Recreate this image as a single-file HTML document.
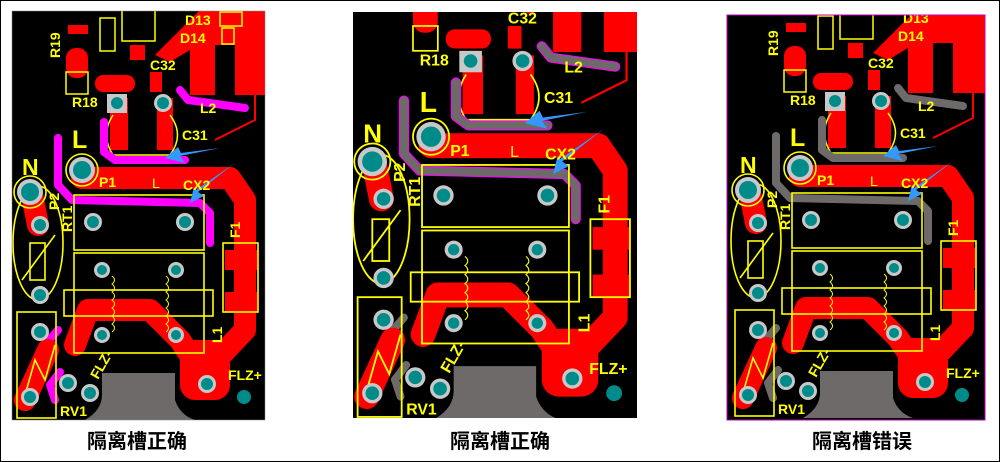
<!DOCTYPE html>
<html><head><meta charset="utf-8"><style>
html,body{margin:0;padding:0;background:#fff;}
svg{display:block;}
text{font-family:"Liberation Sans","Noto Sans CJK SC",sans-serif;}
.y{fill:#ffff00;font-size:14px;font-weight:bold;}
.cap{fill:#000;font-size:20px;font-weight:bold;font-family:"Liberation Sans","Noto Sans CJK SC",sans-serif;}
</style></head><body>
<svg width="1000" height="462" viewBox="0 0 1000 462" xmlns="http://www.w3.org/2000/svg">
<defs>
<clipPath id="c1"><rect x="12" y="11" width="253" height="409"/></clipPath>
<clipPath id="c2"><rect x="353" y="12" width="284" height="406"/></clipPath>
<clipPath id="c3"><rect x="727" y="15" width="258" height="405"/></clipPath>
</defs>
<rect x="0.5" y="0.5" width="999" height="461" fill="#fff" stroke="#000"/>

<!-- PANEL 1 -->
<g clip-path="url(#c1)">
<g>
<rect x="0" y="0" width="280" height="430" fill="#000"/>
<path d="M155,55 L200,10 L270,10 L270,95 L235,95 L235,45 L215,45 L215,95 L190,95 L190,50 L170,62 Z" fill="#ff0000"/>
<rect x="68" y="25" width="20" height="9" fill="#ff0000"/>
<rect x="66" y="48" width="22" height="30" rx="10" fill="#ff0000"/>
<rect x="95" y="75" width="40" height="17" rx="8" fill="#ff0000"/>
<rect x="150" y="72" width="12" height="20" fill="#ff0000"/>
<rect x="130" y="45" width="15" height="15" fill="#ff0000"/>
<rect x="110" y="98" width="18" height="52" fill="#ff0000"/>
<rect x="157" y="98" width="16" height="52" fill="#ff0000"/>
<path d="M255,95 L255,120 L215,140" stroke="#ff0000" stroke-width="2" fill="none"/>
<rect x="66" y="72" width="22" height="22" fill="none" stroke="#ffff00" stroke-width="1.5"/>
<rect x="100" y="18" width="15" height="33" fill="none" stroke="#ffff00" stroke-width="1.5"/>
<rect x="122" y="8" width="33" height="33" fill="none" stroke="#ffff00" stroke-width="1.5"/>
<rect x="220" y="12" width="22" height="14" fill="none" stroke="#ffff00" stroke-width="1.5"/>
<rect x="222" y="28" width="12" height="16" fill="none" stroke="#ffff00" stroke-width="1.5"/>
<path d="M113,115 Q100,135 113,155 L170,155 Q185,135 170,115" fill="none" stroke="#ffff00" stroke-width="1.5"/>
<g fill="none" stroke="#ff00ff" stroke-width="8" stroke-linecap="round" stroke-linejoin="round">
<path d="M58,138 L58,185 L72,200 L200,203 L210,213 L210,243"/>
<path d="M104,122 L104,152 L115,160 L185,160"/>
<path d="M180,90 L188,100 L245,108"/>
<path d="M58,330 L45,345"/><path d="M60,372 L50,385 L55,400"/>
</g>
<g fill="none" stroke="#ff0000" stroke-width="22" stroke-linejoin="round" stroke-linecap="round">
<path d="M82,178 L230,178 L245,200 L245,330 L205,372"/>
<path d="M32,195 L38,225"/>
<path d="M75,345 L88,310 L150,310 L180,340 L200,370"/>
<path d="M25,400 L48,350"/>
</g>
<rect x="180" y="340" width="50" height="60" rx="15" fill="#ff0000"/>
<rect x="225" y="250" width="33" height="20" fill="#ff0000"/>
<rect x="225" y="292" width="33" height="20" fill="#ff0000"/>
<path d="M102,373 L175,373 L175,400 Q180,415 195,420 L85,420 Q102,410 102,395 Z" fill="#6e6a6a"/>
<g fill="none" stroke="#ffff00" stroke-width="1.6">
<rect x="74" y="195" width="130" height="55"/>
<rect x="74" y="253" width="130" height="100"/>
<rect x="64" y="290" width="149" height="26"/>
<rect x="223" y="243" width="35" height="69"/>
<rect x="17" y="312" width="39" height="106"/>
<ellipse cx="38" cy="243" rx="25" ry="57"/>
<rect x="30" y="243" width="15" height="37"/>
<path d="M22,280 L55,235"/>
<path d="M25,395 L35,360 L45,380 L55,345"/>
<circle cx="30" cy="192" r="16"/>
<circle cx="82" cy="170" r="16"/>
</g>
<g fill="none" stroke="#ffff00" stroke-width="1"><path d="M112,276 q5,4 0,8 q5,4 0,8 q5,4 0,8 q5,4 0,8 q5,4 0,8 q5,4 0,8 q5,4 0,8"/><path d="M166,276 q5,4 0,8 q5,4 0,8 q5,4 0,8 q5,4 0,8 q5,4 0,8 q5,4 0,8 q5,4 0,8"/></g>
<rect x="107" y="94" width="20" height="19" fill="#c8c8c8"/>
<g fill="#c8c8c8"><circle cx="163" cy="103" r="9"/><circle cx="30" cy="192" r="13"/><circle cx="82" cy="170" r="13"/>
<circle cx="93" cy="222" r="9"/><circle cx="185" cy="222" r="9"/><circle cx="102" cy="270" r="8"/><circle cx="176" cy="270" r="8"/>
<circle cx="102" cy="335" r="8"/><circle cx="176" cy="335" r="8"/><circle cx="40" cy="225" r="9"/><circle cx="40" cy="295" r="9"/>
<circle cx="40" cy="332" r="9"/><circle cx="30" cy="397" r="9"/><circle cx="68" cy="383" r="9"/><circle cx="90" cy="393" r="9"/><circle cx="207" cy="384" r="9"/></g>
<g fill="#008b8b"><circle cx="117" cy="103" r="6"/><circle cx="163" cy="103" r="6"/><circle cx="30" cy="192" r="9"/><circle cx="82" cy="170" r="9"/>
<circle cx="93" cy="222" r="6"/><circle cx="185" cy="222" r="6"/><circle cx="102" cy="270" r="5"/><circle cx="176" cy="270" r="5"/>
<circle cx="102" cy="335" r="5"/><circle cx="176" cy="335" r="5"/><circle cx="40" cy="225" r="6"/><circle cx="40" cy="295" r="6"/>
<circle cx="40" cy="332" r="6"/><circle cx="30" cy="397" r="6"/><circle cx="68" cy="383" r="6"/><circle cx="90" cy="393" r="6"/><circle cx="207" cy="384" r="6"/><circle cx="244" cy="397" r="7"/></g>
<path d="M220,148 L180,156 L185,163 L165,158 L178,147 L181,153 Z" fill="#3399ff"/>
<path d="M235,163 L198,192 L204,196 L190,203 L194,187 L196,190 Z" fill="#3399ff"/>
<text x="22" y="175" class="y" style="font-size:23px">N</text>
<text x="72" y="148" class="y" style="font-size:25px">L</text>
<text x="99" y="187" class="y">P1</text>
<text x="152" y="188" class="y" style="font-weight:normal">L</text>
<text x="183" y="190" class="y">CX2</text>
<text x="182" y="140" class="y">C31</text>
<text x="150" y="70" class="y">C32</text>
<text x="72" y="107" class="y">R18</text>
<text x="200" y="113" class="y">L2</text>
<text x="185" y="25" class="y">D13</text>
<text x="180" y="43" class="y">D14</text>
<text x="228" y="380" class="y">FLZ+</text>
<text x="60" y="416" class="y">RV1</text>
<text class="y" transform="translate(60,58) rotate(-90)">R19</text>
<text class="y" transform="translate(59,210) rotate(-90)">P2</text>
<text class="y" transform="translate(72,232) rotate(-90)">RT1</text>
<text class="y" transform="translate(240,238) rotate(-90)">F1</text>
<text class="y" transform="translate(222,343) rotate(-90)">L1</text>
<text class="y" transform="translate(98,380) rotate(-60)">FLZ-</text>
</g>
</g>
<rect x="12" y="11" width="253" height="409" fill="none" stroke="#888" stroke-width="0.5"/>

<!-- PANEL 2 -->
<g clip-path="url(#c2)">
<g transform="translate(338.4,-55.4) scale(1.13)">
<rect x="0" y="0" width="280" height="430" fill="#000"/>
<path d="M155,55 L200,10 L270,10 L270,95 L235,95 L235,45 L215,45 L215,95 L190,95 L190,50 L170,62 Z" fill="#ff0000"/>
<rect x="66" y="48" width="22" height="30" rx="10" fill="#ff0000"/>
<rect x="95" y="75" width="40" height="17" rx="8" fill="#ff0000"/>
<rect x="150" y="72" width="12" height="20" fill="#ff0000"/>
<rect x="110" y="98" width="18" height="52" fill="#ff0000"/>
<rect x="157" y="98" width="16" height="52" fill="#ff0000"/>
<path d="M255,95 L255,120 L215,140" stroke="#ff0000" stroke-width="2" fill="none"/>
<rect x="66" y="72" width="22" height="22" fill="none" stroke="#ffff00" stroke-width="1.5"/>
<path d="M113,115 Q100,135 113,155 L170,155 Q185,135 170,115" fill="none" stroke="#ffff00" stroke-width="1.5"/>
<g fill="none" stroke-linecap="round" stroke-linejoin="round">
<g stroke="#ff00ff" stroke-width="9"><path d="M58,138 L58,185 L72,200 L200,203 L210,213 L210,243"/><path d="M104,122 L104,152 L115,160 L185,160"/><path d="M180,90 L188,100 L245,108"/></g>
<g stroke="#6e6a6a" stroke-width="7"><path d="M58,138 L58,185 L72,200 L200,203 L210,213 L210,243"/><path d="M104,122 L104,152 L115,160 L185,160"/><path d="M180,90 L188,100 L245,108"/><path d="M58,330 L45,345"/><path d="M60,372 L50,385 L55,400"/></g>
</g>
<g fill="none" stroke="#ff0000" stroke-width="22" stroke-linejoin="round" stroke-linecap="round">
<path d="M82,178 L230,178 L245,200 L245,330 L205,372"/><path d="M32,195 L38,225"/>
<path d="M75,345 L88,310 L150,310 L180,340 L200,370"/><path d="M25,400 L48,350"/>
</g>
<rect x="180" y="340" width="50" height="60" rx="15" fill="#ff0000"/>
<rect x="225" y="250" width="33" height="20" fill="#ff0000"/>
<rect x="225" y="292" width="33" height="20" fill="#ff0000"/>
<path d="M102,373 L175,373 L175,400 Q180,415 195,420 L85,420 Q102,410 102,395 Z" fill="#6e6a6a"/>
<g fill="none" stroke="#ffff00" stroke-width="1.6">
<rect x="74" y="195" width="130" height="55"/><rect x="74" y="253" width="130" height="100"/><rect x="64" y="290" width="149" height="26"/>
<rect x="223" y="243" width="35" height="69"/><rect x="17" y="312" width="39" height="106"/><ellipse cx="38" cy="243" rx="25" ry="57"/>
<rect x="30" y="243" width="15" height="37"/><path d="M22,280 L55,235"/><path d="M25,395 L35,360 L45,380 L55,345"/>
<circle cx="30" cy="192" r="16"/><circle cx="82" cy="170" r="16"/>
</g>
<g fill="none" stroke="#ffff00" stroke-width="1"><path d="M112,276 q5,4 0,8 q5,4 0,8 q5,4 0,8 q5,4 0,8 q5,4 0,8 q5,4 0,8 q5,4 0,8"/><path d="M166,276 q5,4 0,8 q5,4 0,8 q5,4 0,8 q5,4 0,8 q5,4 0,8 q5,4 0,8 q5,4 0,8"/></g>
<rect x="107" y="94" width="20" height="19" fill="#c8c8c8"/>
<g fill="#c8c8c8"><circle cx="163" cy="103" r="9"/><circle cx="30" cy="192" r="13"/><circle cx="82" cy="170" r="13"/>
<circle cx="93" cy="222" r="9"/><circle cx="185" cy="222" r="9"/><circle cx="102" cy="270" r="8"/><circle cx="176" cy="270" r="8"/>
<circle cx="102" cy="335" r="8"/><circle cx="176" cy="335" r="8"/><circle cx="40" cy="225" r="9"/><circle cx="40" cy="295" r="9"/>
<circle cx="40" cy="332" r="9"/><circle cx="30" cy="397" r="9"/><circle cx="68" cy="383" r="9"/><circle cx="90" cy="393" r="9"/><circle cx="207" cy="384" r="9"/></g>
<g fill="#008b8b"><circle cx="117" cy="103" r="6"/><circle cx="163" cy="103" r="6"/><circle cx="30" cy="192" r="9"/><circle cx="82" cy="170" r="9"/>
<circle cx="93" cy="222" r="6"/><circle cx="185" cy="222" r="6"/><circle cx="102" cy="270" r="5"/><circle cx="176" cy="270" r="5"/>
<circle cx="102" cy="335" r="5"/><circle cx="176" cy="335" r="5"/><circle cx="40" cy="225" r="6"/><circle cx="40" cy="295" r="6"/>
<circle cx="40" cy="332" r="6"/><circle cx="30" cy="397" r="6"/><circle cx="68" cy="383" r="6"/><circle cx="90" cy="393" r="6"/><circle cx="207" cy="384" r="6"/><circle cx="244" cy="397" r="7"/></g>
<path d="M220,148 L180,156 L185,163 L165,158 L178,147 L181,153 Z" fill="#3399ff"/>
<path d="M235,163 L198,192 L204,196 L190,203 L194,187 L196,190 Z" fill="#3399ff"/>
<text x="22" y="175" class="y" style="font-size:23px">N</text>
<text x="72" y="148" class="y" style="font-size:25px">L</text>
<text x="99" y="187" class="y">P1</text><text x="152" y="188" class="y" style="font-weight:normal">L</text><text x="183" y="190" class="y">CX2</text>
<text x="182" y="140" class="y">C31</text><text x="150" y="70" class="y">C32</text><text x="72" y="107" class="y">R18</text>
<text x="200" y="113" class="y">L2</text><text x="222" y="380" class="y">FLZ+</text><text x="60" y="416" class="y">RV1</text>
<text class="y" transform="translate(59,210) rotate(-90)">P2</text>
<text class="y" transform="translate(72,232) rotate(-90)">RT1</text>
<text class="y" transform="translate(240,238) rotate(-90)">F1</text>
<text class="y" transform="translate(222,343) rotate(-90)">L1</text>
<text class="y" transform="translate(98,380) rotate(-60)">FLZ-</text>
</g>
</g>

<!-- PANEL 3 -->
<g clip-path="url(#c3)">
<g transform="translate(718,-2)">
<rect x="0" y="0" width="280" height="430" fill="#000"/>
<path d="M155,55 L200,10 L270,10 L270,95 L235,95 L235,45 L215,45 L215,95 L190,95 L190,50 L170,62 Z" fill="#ff0000"/>
<rect x="68" y="25" width="20" height="9" fill="#ff0000"/>
<rect x="66" y="48" width="22" height="30" rx="10" fill="#ff0000"/>
<rect x="95" y="75" width="40" height="17" rx="8" fill="#ff0000"/>
<rect x="150" y="72" width="12" height="20" fill="#ff0000"/>
<rect x="130" y="45" width="15" height="15" fill="#ff0000"/>
<rect x="110" y="98" width="18" height="52" fill="#ff0000"/>
<rect x="157" y="98" width="16" height="52" fill="#ff0000"/>
<path d="M255,95 L255,120 L215,140" stroke="#ff0000" stroke-width="2" fill="none"/>
<rect x="66" y="72" width="22" height="22" fill="none" stroke="#ffff00" stroke-width="1.5"/>
<rect x="100" y="18" width="15" height="33" fill="none" stroke="#ffff00" stroke-width="1.5"/>
<rect x="122" y="8" width="33" height="33" fill="none" stroke="#ffff00" stroke-width="1.5"/>
<path d="M113,115 Q100,135 113,155 L170,155 Q185,135 170,115" fill="none" stroke="#ffff00" stroke-width="1.5"/>
<g fill="none" stroke="#6e6a6a" stroke-width="8" stroke-linecap="round" stroke-linejoin="round">
<path d="M58,138 L58,185 L72,200 L200,203 L210,213 L210,243"/><path d="M104,122 L104,152 L115,160 L185,160"/><path d="M180,90 L188,100 L245,108"/>
<path d="M58,330 L45,345"/><path d="M60,372 L50,385 L55,400"/>
</g>
<g fill="none" stroke="#ff0000" stroke-width="22" stroke-linejoin="round" stroke-linecap="round">
<path d="M82,178 L230,178 L245,200 L245,330 L205,372"/><path d="M32,195 L38,225"/>
<path d="M75,345 L88,310 L150,310 L180,340 L200,370"/><path d="M25,400 L48,350"/>
</g>
<rect x="180" y="340" width="50" height="60" rx="15" fill="#ff0000"/>
<rect x="225" y="250" width="33" height="20" fill="#ff0000"/>
<rect x="225" y="292" width="33" height="20" fill="#ff0000"/>
<path d="M102,373 L175,373 L175,400 Q180,415 195,420 L85,420 Q102,410 102,395 Z" fill="#6e6a6a"/>
<g fill="none" stroke="#ffff00" stroke-width="1.6">
<rect x="74" y="195" width="130" height="55"/><rect x="74" y="253" width="130" height="100"/><rect x="64" y="290" width="149" height="26"/>
<rect x="223" y="243" width="35" height="69"/><rect x="17" y="312" width="39" height="106"/><ellipse cx="38" cy="243" rx="25" ry="57"/>
<rect x="30" y="243" width="15" height="37"/><path d="M22,280 L55,235"/><path d="M25,395 L35,360 L45,380 L55,345"/>
<circle cx="30" cy="192" r="16"/><circle cx="82" cy="170" r="16"/>
</g>
<g fill="none" stroke="#ffff00" stroke-width="1"><path d="M112,276 q5,4 0,8 q5,4 0,8 q5,4 0,8 q5,4 0,8 q5,4 0,8 q5,4 0,8 q5,4 0,8"/><path d="M166,276 q5,4 0,8 q5,4 0,8 q5,4 0,8 q5,4 0,8 q5,4 0,8 q5,4 0,8 q5,4 0,8"/></g>
<rect x="107" y="94" width="20" height="19" fill="#c8c8c8"/>
<g fill="#c8c8c8"><circle cx="163" cy="103" r="9"/><circle cx="30" cy="192" r="13"/><circle cx="82" cy="170" r="13"/>
<circle cx="93" cy="222" r="9"/><circle cx="185" cy="222" r="9"/><circle cx="102" cy="270" r="8"/><circle cx="176" cy="270" r="8"/>
<circle cx="102" cy="335" r="8"/><circle cx="176" cy="335" r="8"/><circle cx="40" cy="225" r="9"/><circle cx="40" cy="295" r="9"/>
<circle cx="40" cy="332" r="9"/><circle cx="30" cy="397" r="9"/><circle cx="68" cy="383" r="9"/><circle cx="90" cy="393" r="9"/><circle cx="207" cy="384" r="9"/></g>
<g fill="#008b8b"><circle cx="117" cy="103" r="6"/><circle cx="163" cy="103" r="6"/><circle cx="30" cy="192" r="9"/><circle cx="82" cy="170" r="9"/>
<circle cx="93" cy="222" r="6"/><circle cx="185" cy="222" r="6"/><circle cx="102" cy="270" r="5"/><circle cx="176" cy="270" r="5"/>
<circle cx="102" cy="335" r="5"/><circle cx="176" cy="335" r="5"/><circle cx="40" cy="225" r="6"/><circle cx="40" cy="295" r="6"/>
<circle cx="40" cy="332" r="6"/><circle cx="30" cy="397" r="6"/><circle cx="68" cy="383" r="6"/><circle cx="90" cy="393" r="6"/><circle cx="207" cy="384" r="6"/><circle cx="244" cy="397" r="7"/></g>
<path d="M220,148 L180,156 L185,163 L165,158 L178,147 L181,153 Z" fill="#3399ff"/>
<path d="M235,163 L198,192 L204,196 L190,203 L194,187 L196,190 Z" fill="#3399ff"/>
<text x="22" y="175" class="y" style="font-size:23px">N</text>
<text x="72" y="148" class="y" style="font-size:25px">L</text>
<text x="99" y="187" class="y">P1</text><text x="152" y="188" class="y" style="font-weight:normal">L</text><text x="183" y="190" class="y">CX2</text>
<text x="182" y="140" class="y">C31</text><text x="150" y="70" class="y">C32</text><text x="72" y="107" class="y">R18</text>
<text x="200" y="113" class="y">L2</text><text x="185" y="25" class="y">D13</text><text x="180" y="43" class="y">D14</text>
<text x="228" y="380" class="y">FLZ+</text><text x="60" y="416" class="y">RV1</text>
<text class="y" transform="translate(60,58) rotate(-90)">R19</text>
<text class="y" transform="translate(59,210) rotate(-90)">P2</text>
<text class="y" transform="translate(72,232) rotate(-90)">RT1</text>
<text class="y" transform="translate(240,238) rotate(-90)">F1</text>
<text class="y" transform="translate(222,343) rotate(-90)">L1</text>
<text class="y" transform="translate(98,380) rotate(-60)">FLZ-</text>
</g>
</g>
<rect x="727" y="15" width="258" height="405" fill="none" stroke="#c000c0" stroke-width="1"/>

<text x="137" y="448" class="cap" text-anchor="middle">隔离槽正确</text>
<text x="500" y="448" class="cap" text-anchor="middle">隔离槽正确</text>
<text x="862" y="448" class="cap" text-anchor="middle">隔离槽错误</text>
</svg>
</body></html>
